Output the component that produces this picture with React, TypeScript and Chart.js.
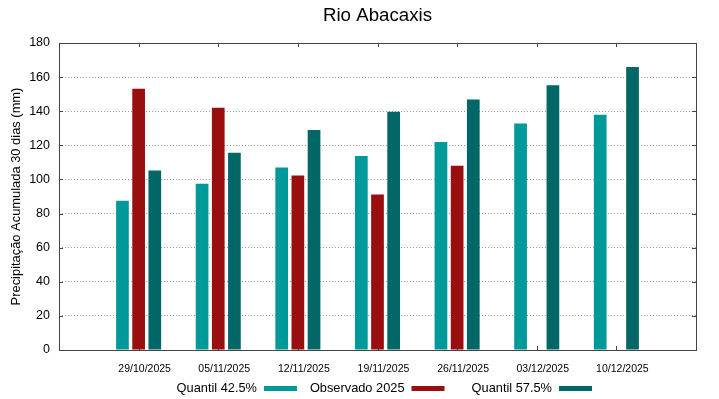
import React, { useEffect, useRef } from "react";
import { Chart, registerables } from "chart.js";

Chart.register(...registerables);

const title = "Rio Abacaxis";
const yTitle = "Precipitação Acumulada 30 dias (mm)";
const dates = ["29/10/2025", "05/11/2025", "12/11/2025", "19/11/2025", "26/11/2025", "03/12/2025", "10/12/2025"];
const q425 = [87.5, 97.5, 107, 113.7, 122, 132.8, 138];
const observado = [153.2, 142, 102.3, 91.2, 108, null, null];
const q575 = [105.2, 115.6, 129, 139.7, 146.8, 155.3, 166];
const seriesNames = ["Quantil 42.5%", "Observado 2025", "Quantil 57.5%"];
const colors = ["#009999", "#990f0f", "#006666"];

const FONT = "'Liberation Sans', Arial, sans-serif";
const TICK = 4;

const toXY = (arr: (number | null)[]) => arr.map((v, i) => ({ x: i, y: v }));

const decorPlugin = {
  id: "decor",
  beforeDatasetsDraw(chart: any) {
    const { ctx, chartArea, scales } = chart;
    ctx.save();
    ctx.strokeStyle = "#444";
    ctx.lineWidth = 1;
    ctx.beginPath();
    for (let v = 20; v < 180; v += 20) {
      const y = Math.round(scales.y.getPixelForValue(v)) + 0.5;
      ctx.moveTo(chartArea.left, y);
      ctx.lineTo(chartArea.left + TICK, y);
      ctx.moveTo(chartArea.right, y);
      ctx.lineTo(chartArea.right - TICK, y);
    }
    for (let i = 0; i < dates.length; i++) {
      const x = Math.round(scales.x.getPixelForValue(i)) + 0.5;
      ctx.moveTo(x, chartArea.bottom);
      ctx.lineTo(x, chartArea.bottom - TICK);
      ctx.moveTo(x, chartArea.top);
      ctx.lineTo(x, chartArea.top + TICK);
    }
    ctx.stroke();
    ctx.restore();
  },
  afterDatasetsDraw(chart: any) {
    const { ctx, chartArea } = chart;
    ctx.save();
    ctx.strokeStyle = "#444";
    ctx.lineWidth = 1;
    ctx.strokeRect(
      Math.round(chartArea.left) + 0.5,
      Math.round(chartArea.top) + 0.5,
      Math.round(chartArea.right - chartArea.left),
      Math.round(chartArea.bottom - chartArea.top)
    );
    ctx.restore();
  },
  afterDraw(chart: any) {
    const { ctx, chartArea } = chart;
    ctx.save();
    ctx.fillStyle = "#000";
    ctx.font = `18.7px ${FONT}`;
    ctx.textAlign = "center";
    ctx.textBaseline = "alphabetic";
    ctx.fillText(title, (chartArea.left + chartArea.right) / 2, 13);
    ctx.font = `12.8px ${FONT}`;
    ctx.textAlign = "right";
    ctx.textBaseline = "middle";
    const legendY = chart.height - 11;
    for (let i = 0; i < seriesNames.length; i++) {
      const sx = chartArea.left + 205 + i * 147.5;
      ctx.fillStyle = "#000";
      ctx.fillText(seriesNames[i], sx - 7, legendY);
      ctx.fillStyle = colors[i];
      ctx.fillRect(sx, legendY - 2, 33, 5);
    }
    ctx.restore();
  },
};

export default function App() {
  const ref = useRef<HTMLCanvasElement | null>(null);
  useEffect(() => {
    if (!ref.current) return;
    const chart = new Chart(ref.current, {
      type: "bar",
      data: {
        datasets: [
          { label: seriesNames[0], data: toXY(q425) as any, backgroundColor: colors[0] },
          { label: seriesNames[1], data: toXY(observado) as any, backgroundColor: colors[1] },
          { label: seriesNames[2], data: toXY(q575) as any, backgroundColor: colors[2] },
        ],
      },
      options: {
        animation: false,
        responsive: false,
        maintainAspectRatio: false,
        layout: { padding: { top: 35, right: 15, left: 0, bottom: 0 } },
        datasets: { bar: { categoryPercentage: 0.609, barPercentage: 0.786 } },
        plugins: {
          legend: { display: false },
          title: { display: false },
          tooltip: { enabled: false },
        },
        scales: {
          x: {
            type: "linear",
            min: -1,
            max: 7,
            offset: false,
            grid: { display: false, drawTicks: false },
            border: { display: false },
            ticks: {
              stepSize: 1,
              autoSkip: false,
              maxRotation: 0,
              padding: 13,
              labelOffset: 6,
              color: "#000",
              font: { family: FONT, size: 10.5 },
              callback: (v: any) => {
                const i = Number(v);
                return i >= 0 && i < dates.length && Number.isInteger(i) ? dates[i] : "";
              },
            },
            afterFit: (s: any) => {
              s.height = 49;
            },
          },
          y: {
            min: 0,
            max: 180,
            grid: { color: "#9a9a9a", drawTicks: false, lineWidth: 1 },
            border: { display: false, dash: [1, 2] },
            ticks: {
              stepSize: 20,
              padding: 9,
              color: "#000",
              font: { family: FONT, size: 12.5 },
            },
            title: {
              display: true,
              text: yTitle,
              color: "#000",
              font: { family: FONT, size: 12.9 },
              padding: { top: 1, bottom: 0 },
            },
            afterFit: (s: any) => {
              s.width = 51;
            },
          },
        },
      },
      plugins: [decorPlugin],
    });
    return () => chart.destroy();
  }, []);
  return (
    <div style={{ width: 703, height: 391 }}>
      <canvas ref={ref} width={703} height={391} style={{ display: "block", width: 703, height: 391 }} />
    </div>
  );
}
